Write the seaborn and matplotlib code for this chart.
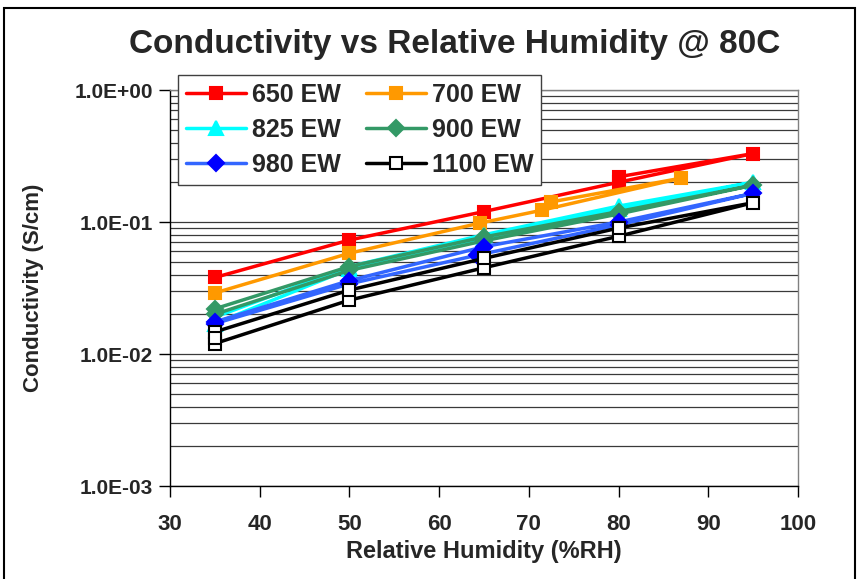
import matplotlib
matplotlib.use("Agg")
import matplotlib.pyplot as plt
from matplotlib.ticker import LogLocator, FuncFormatter, MultipleLocator
from matplotlib.patches import Rectangle
from matplotlib.lines import Line2D
import pandas as pd
import seaborn as sns

# Equivalent weight series: humidity sweep up then back down
labels = ["650 EW", "700 EW", "825 EW", "900 EW", "980 EW", "1100 EW"]

rh_650 = [35, 50, 65, 80, 95, 80]
sigma_650 = [0.038, 0.073, 0.120, 0.200, 0.330, 0.220]

rh_700 = [35, 50, 64.5, 71.5, 87, 72.5]
sigma_700 = [0.029, 0.058, 0.098, 0.123, 0.215, 0.142]

rh_825 = [35, 50, 65, 80, 95, 80, 65, 50, 35]
sigma_825 = [0.017, 0.044, 0.075, 0.125, 0.200, 0.132, 0.080, 0.046, 0.019]

rh_900 = [35, 50, 65, 80, 95, 80, 65, 50, 35]
sigma_900 = [0.020, 0.043, 0.072, 0.115, 0.190, 0.120, 0.077, 0.046, 0.022]

rh_980 = [35, 50, 64.2, 80, 95, 80, 65, 50, 35]
sigma_980 = [0.017, 0.034, 0.056, 0.095, 0.165, 0.100, 0.065, 0.036, 0.0175]

rh_1100 = [35, 50, 65, 80, 95, 80, 65, 50, 35, 35]
sigma_1100 = [0.012, 0.0256, 0.045, 0.078, 0.140, 0.090, 0.053, 0.0305, 0.0147, 0.0132]

xs = [rh_650, rh_700, rh_825, rh_900, rh_980, rh_1100]
ys = [sigma_650, sigma_700, sigma_825, sigma_900, sigma_980, sigma_1100]

styles = {
    "650 EW": dict(color="#FF0000", marker="s", mfc="#FF0000", mec="#FF0000", ms=9),
    "700 EW": dict(color="#FF9900", marker="s", mfc="#FF9900", mec="#FF9900", ms=9),
    "825 EW": dict(color="#00FFFF", marker="^", mfc="#00FFFF", mec="#00FFFF", ms=10),
    "900 EW": dict(color="#339966", marker="D", mfc="#339966", mec="#339966", ms=8),
    "980 EW": dict(color="#3366FF", marker="D", mfc="#0000FF", mec="#0000FF", ms=8),
    "1100 EW": dict(color="#000000", marker="s", mfc="white", mec="black", ms=9),
}

sns.set_theme(style="white")
plt.rcParams["font.family"] = ["Liberation Sans", "DejaVu Sans"]
plt.rcParams["font.weight"] = "bold"

fig = plt.figure(figsize=(8.6, 5.79), dpi=100)
ax = fig.add_axes([170 / 860, (579 - 486) / 579, 628 / 860, 396 / 579])

for lab, x, y in zip(labels, xs, ys):
    st = styles[lab]
    df = pd.DataFrame({"rh": x, "sigma": y})
    sns.lineplot(data=df, x="rh", y="sigma", sort=False, estimator=None, ax=ax,
                 color=st["color"], linewidth=2.5, marker=st["marker"],
                 markersize=st["ms"], markerfacecolor=st["mfc"],
                 markeredgecolor=st["mec"], markeredgewidth=1.5, legend=False)

ax.set_yscale("log")
ax.set_ylim(1e-3, 1.0)
ax.set_xlim(30, 100)
ax.xaxis.set_major_locator(MultipleLocator(10))
ax.yaxis.set_major_locator(LogLocator(base=10, numticks=10))
ax.yaxis.set_minor_locator(LogLocator(base=10, subs=range(2, 10), numticks=20))
ax.yaxis.set_major_formatter(FuncFormatter(lambda v, p: f"{v:.1E}"))
ax.yaxis.set_minor_formatter(FuncFormatter(lambda v, p: ""))

ax.grid(False)
ax.yaxis.grid(True, which="both", color="#3a3a3a", linewidth=0.9)
ax.set_axisbelow(True)

for side in ["left", "bottom"]:
    ax.spines[side].set_color("black")
    ax.spines[side].set_linewidth(1.0)
for side in ["top", "right"]:
    ax.spines[side].set_color("#808080")
    ax.spines[side].set_linewidth(1.0)

ax.tick_params(axis="both", which="major", direction="out", length=8, width=1.0,
               color="black", left=True, bottom=True)
ax.tick_params(axis="y", which="major", labelsize=15, pad=4)
ax.tick_params(axis="x", which="major", labelsize=16, pad=12)
ax.tick_params(axis="y", which="minor", length=0)
for t in ax.get_xticklabels() + ax.get_yticklabels():
    t.set_fontweight("bold")

ax.set_xlabel("Relative Humidity (%RH)", fontsize=17, fontweight="bold", labelpad=4)
ax.set_ylabel("Conductivity (S/cm)", fontsize=16, fontweight="bold", labelpad=22)

fig.text(455 / 860, 1 - 45 / 579, "Conductivity vs Relative Humidity @ 80C",
         ha="center", va="center", fontsize=24, fontweight="bold")

# Legend: two columns, row order 650/700, 825/900, 980/1100
order = ["650 EW", "825 EW", "980 EW", "700 EW", "900 EW", "1100 EW"]
handles = []
for lab in order:
    st = styles[lab]
    handles.append(Line2D([], [], color=st["color"], linewidth=2.5, marker=st["marker"],
                          markersize=st["ms"], markerfacecolor=st["mfc"],
                          markeredgecolor=st["mec"], markeredgewidth=1.5))
leg = fig.legend(handles, order, ncol=2, loc="upper left",
                 bbox_to_anchor=(178 / 860, 1 - 75 / 579),
                 prop=dict(size=18, weight="bold"), frameon=True, fancybox=False,
                 handlelength=2.4, handletextpad=0.25, columnspacing=1.0,
                 labelspacing=0.45, borderpad=0.3, borderaxespad=0.0)
leg.get_frame().set_edgecolor("#404040")
leg.get_frame().set_linewidth(1.0)
leg.get_frame().set_facecolor("white")
leg.get_frame().set_alpha(1.0)

# Outer chart border
fig.patches.append(Rectangle((4 / 860, -0.05), 851 / 860, 1.05 - 8 / 579,
                             transform=fig.transFigure, fill=False,
                             edgecolor="black", linewidth=1.5))

fig.savefig("out.png", dpi=100)
